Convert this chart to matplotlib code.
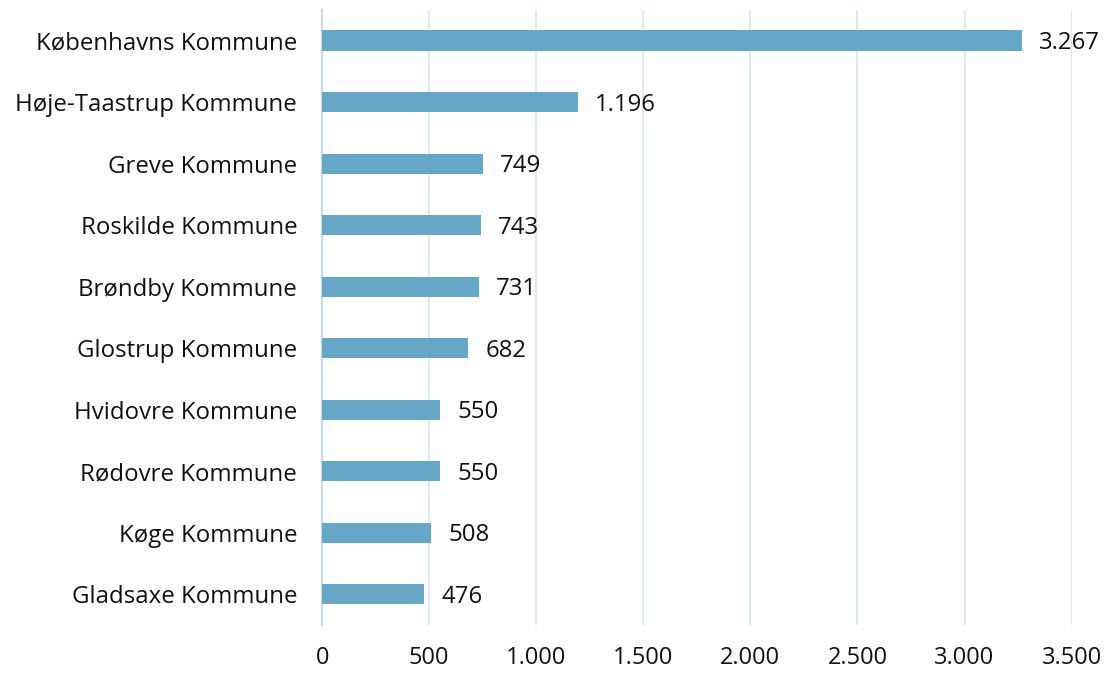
import matplotlib
matplotlib.use("Agg")
import matplotlib.pyplot as plt
from matplotlib.ticker import FuncFormatter

plt.rcParams['font.family'] = ['Open Sans', 'DejaVu Sans']

kommuner = [
    "Københavns Kommune", "Høje-Taastrup Kommune", "Greve Kommune",
    "Roskilde Kommune", "Brøndby Kommune", "Glostrup Kommune",
    "Hvidovre Kommune", "Rødovre Kommune", "Køge Kommune", "Gladsaxe Kommune",
]
antal = [3267, 1196, 749, 743, 731, 682, 550, 550, 508, 476]
xticks = [0, 500, 1000, 1500, 2000, 2500, 3000, 3500]


def dk(v):
    # dansk tusindtalsseparator
    return f"{int(v):,}".replace(",", ".")


fig = plt.figure(figsize=(11.07, 6.73), dpi=100)
ax = fig.add_axes([0.291, 0.0713, 0.677, 0.914])

pos = list(range(len(kommuner)))
ax.barh(pos, antal, height=0.33, color="#66a7c8", zorder=3)

for p, v in zip(pos, antal):
    ax.text(v + 80, p + 0.04, dk(v), va="center", ha="left", fontsize=17.3, color="#111111")

ax.set_yticks(pos)
ax.set_yticklabels(kommuner, fontsize=17.3, color="#111111")
ax.set_ylim(len(kommuner) - 0.5, -0.5)

ax.set_xlim(0, 3500)
ax.set_xticks(xticks)
ax.xaxis.set_major_formatter(FuncFormatter(lambda v, _: dk(v)))
ax.tick_params(axis="x", labelsize=17, colors="#111111", length=0, pad=15)
ax.tick_params(axis="y", length=0, pad=18)

ax.grid(axis="x", color="#dde9f2", linewidth=1.5, zorder=0)
for s in ["top", "right", "bottom"]:
    ax.spines[s].set_visible(False)
ax.spines["left"].set_color("#c4dceb")
ax.spines["left"].set_linewidth(1.5)

fig.savefig("out.png", dpi=100)
